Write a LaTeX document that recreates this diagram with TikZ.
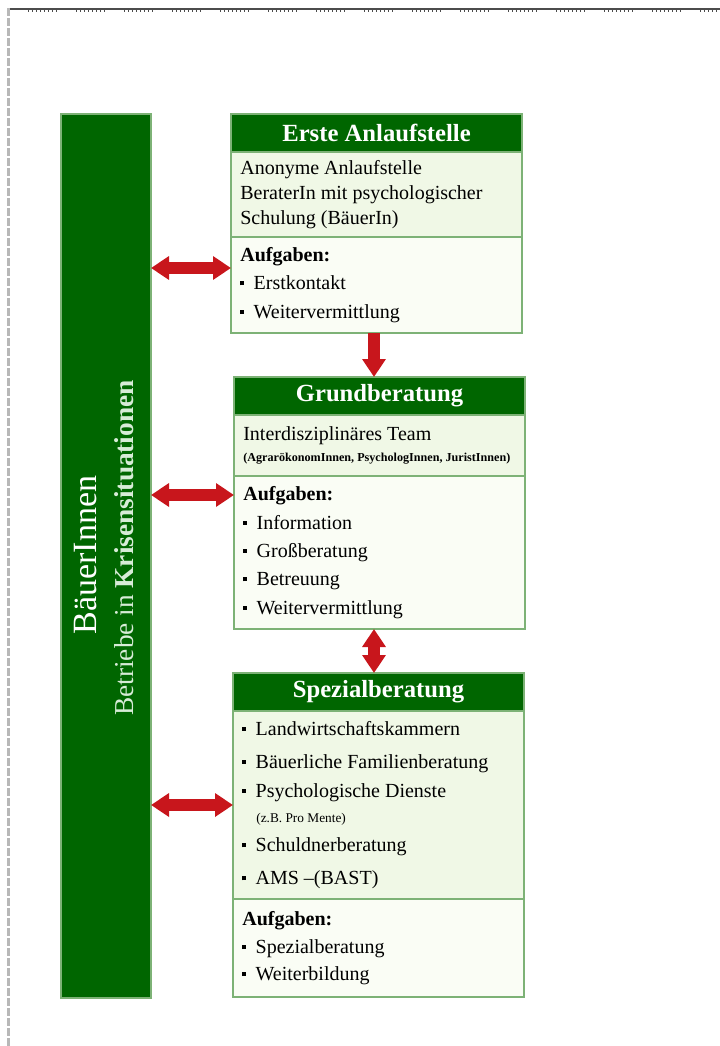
\documentclass[tikz,border=0pt]{standalone}
\usepackage{fontspec}
\setmainfont{Liberation Serif}
\usetikzlibrary{arrows.meta}

\definecolor{headgreen}{RGB}{0,102,0}
\definecolor{linegreen}{RGB}{125,178,118}
\definecolor{paleA}{RGB}{240,248,230}
\definecolor{paleB}{RGB}{250,253,245}
\definecolor{arrowred}{RGB}{200,22,28}
\definecolor{palewhite}{RGB}{215,236,215}
\newcommand{\sq}{\rule[0.22em]{3pt}{3pt}\hspace{7pt}}
\frenchspacing

\begin{document}
\begin{tikzpicture}[x=0.75pt, y=-0.75pt,
        head/.style={draw=linegreen, line width=1.5pt, fill=headgreen, text=white, font=\fontsize{18.5}{21}\selectfont\bfseries,
            minimum width=218.25pt, minimum height=28.5pt, anchor=north west, inner sep=0pt, outer sep=0pt},
        secA/.style={draw=linegreen, line width=1.5pt, fill=paleA, text width=204.25pt, align=flush left, minimum width=218.25pt,
            anchor=north west, inner xsep=7pt, inner ysep=0pt, outer sep=0pt, font=\fontsize{15}{18.75}\selectfont},
        secB/.style={secA, fill=paleB},
        link/.style={arrowred, line width=9pt, {Triangle[length=13.5pt, width=17pt]}-{Triangle[length=13.5pt, width=17pt]}},
        down/.style={arrowred, line width=9pt, -{Triangle[length=13.5pt, width=17pt]}}]
    \useasboundingbox (0,0) rectangle (720,1046);

    % page edges
    \draw[black!70, line width=1.5pt] (7,8.5) -- (720,8.5);
    \foreach \gx in {28,76,...,700}
        \draw[black!70, line width=1.5pt, dash pattern=on 1pt off 2pt] (\gx,11) -- (\gx+30,11);
    \draw[black!28, line width=2.2pt, dash pattern=on 6pt off 1.5pt] (8.5,8) -- (8.5,1046);

    % left bar
    \node[draw=linegreen, line width=1.5pt, fill=headgreen, minimum width=67.5pt, minimum height=663pt,
        anchor=north west, inner sep=0pt, outer sep=0pt] (bar) at (61,114) {};
    \node[rotate=90, text=white, font=\fontsize{25.5}{30}\selectfont] (who) at (86,555) {BäuerInnen};
    \node[rotate=90, text=palewhite, font=\fontsize{20.5}{24}\selectfont] (what) at (124,548) {Betriebe in \textbf{Krisensituationen}};

    % Erste Anlaufstelle
    \node[head] (b1h) at (231,114) {Erste Anlaufstelle};
    \node[secA, minimum height=63.75pt] (b1s) at (b1h.south west) {Anonyme Anlaufstelle\\BeraterIn mit psychologischer\\Schulung (BäuerIn)};
    \node[secB, minimum height=72pt] (b1a) at (b1s.south west) {\textbf{Aufgaben:}\\[2.5pt]\sq Erstkontakt\\[2.5pt]\sq Weitervermittlung};

    % Grundberatung
    \node[head] (b2h) at (234,377) {Grundberatung};
    \node[secA, minimum height=45.75pt] (b2s) at (b2h.south west) {Interdisziplinäres Team\par
        {\fontsize{9.1}{16}\selectfont\bfseries (AgrarökonomInnen, PsychologInnen, JuristInnen)\par}};
    \node[secB, minimum height=114.75pt] (b2a) at (b2s.south west) {\textbf{Aufgaben:}\\[2.5pt]\sq Information\\[2.5pt]\sq Großberatung\\[2.5pt]\sq Betreuung\\[2.5pt]\sq Weitervermittlung};

    % Spezialberatung
    \node[head] (b3h) at (233,673) {Spezialberatung};
    \node[secA, minimum height=141pt] (b3s) at (b3h.south west) {\sq Landwirtschaftskammern\\[6pt]\sq Bäuerliche Familienberatung\\[3pt]\sq Psychologische Dienste\\
        \hspace*{10.5pt}{\fontsize{10}{12}\selectfont (z.B. Pro Mente)}\\[3.5pt]\sq Schuldnerberatung\\[6pt]\sq AMS –(BAST)};
    \node[secB, minimum height=73.5pt] (b3a) at (b3s.south west) {\textbf{Aufgaben:}\\[2.5pt]\sq Spezialberatung\\[1.5pt]\sq Weiterbildung};

    % connectors
    \foreach \y/\b in {268/b1a, 495/b2a, 805/b3s}
        \draw[link] (bar.east |- 0,\y) -- (\b.west |- 0,\y);
    \draw[down] (b1a.south -| 374,0) -- (b2h.north -| 374,0);
    \draw[link] (b2a.south -| 374,0) -- (b3h.north -| 374,0);
\end{tikzpicture}
\end{document}
